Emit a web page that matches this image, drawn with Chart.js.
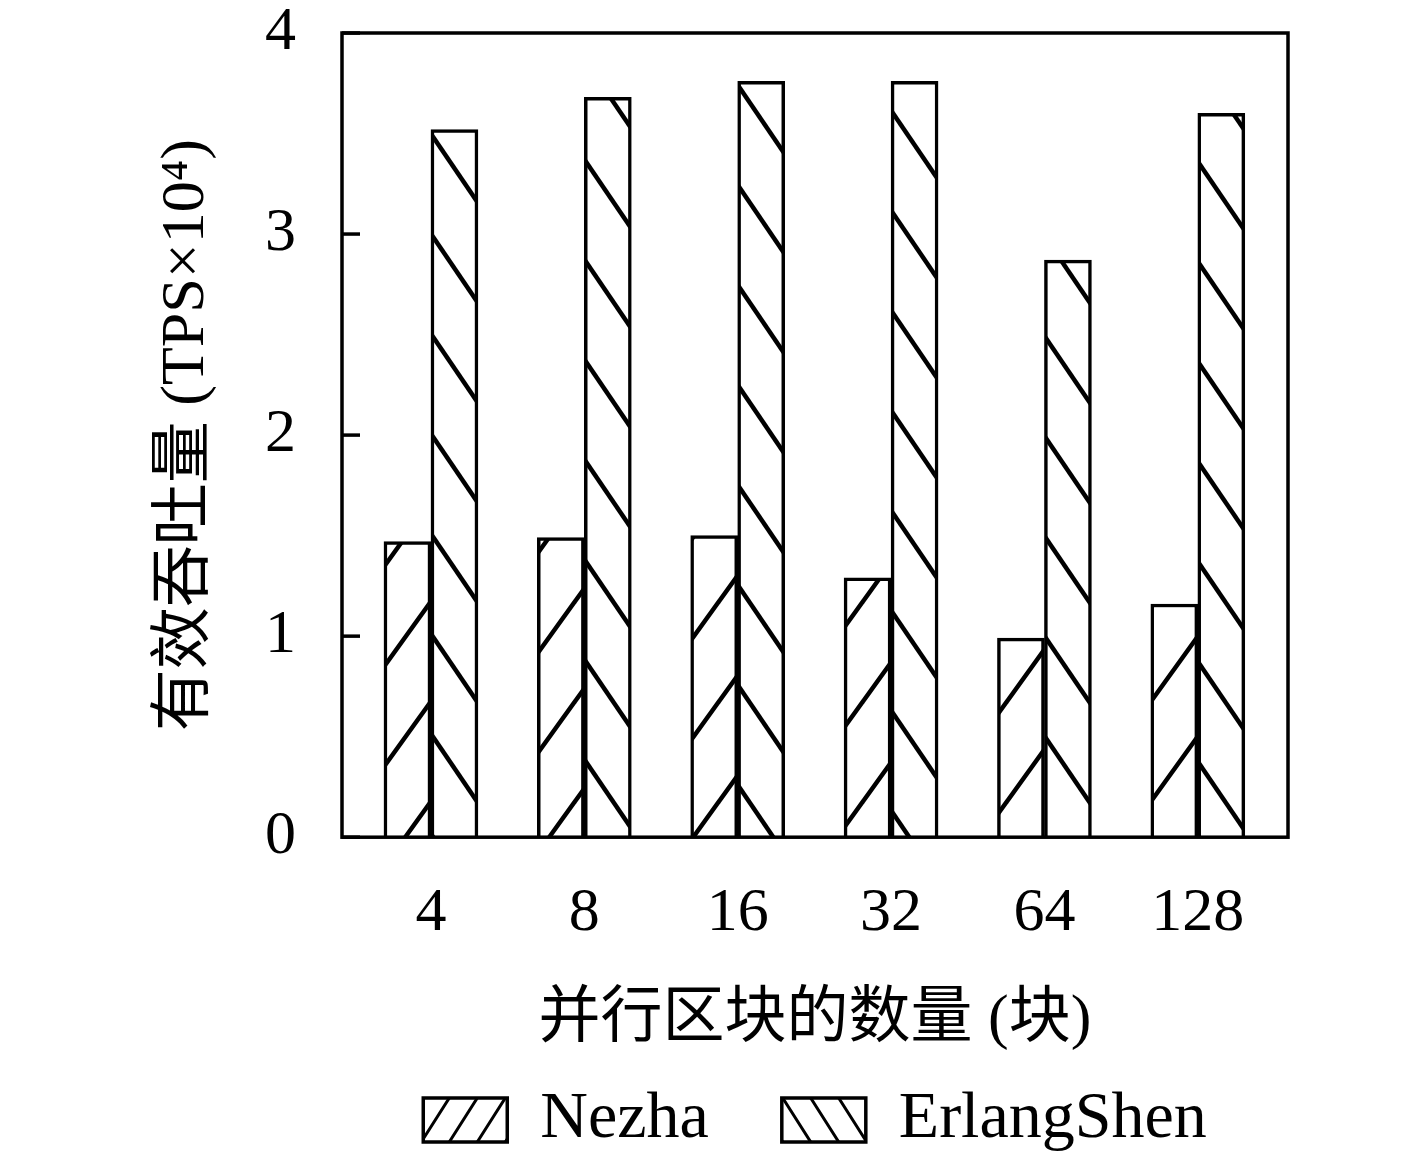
<!DOCTYPE html>
<html>
<head>
<meta charset="utf-8">
<script src="https://cdn.jsdelivr.net/npm/chart.js@4/dist/chart.umd.min.js"></script>
<style>
  html, body { margin: 0; padding: 0; background: #fff; }
  canvas { display: block; }
</style>
</head>
<body>
<canvas id="tpsChart" width="1417" height="1157" style="width:1417px;height:1157px"></canvas>
<script>
const categories = ['4', '8', '16', '32', '64', '128'];
const nezha = [1.47, 1.49, 1.50, 1.29, 0.99, 1.16];
const erlangShen = [3.52, 3.68, 3.76, 3.76, 2.87, 3.60];
const yTicks = [0, 1, 2, 3, 4];

const FONT = "'Liberation Serif', 'Noto Sans CJK SC', serif";

// hatch tile: '/' or '\'
function makeHatch(dir, w, h, lw) {
    const c = document.createElement('canvas');
    c.width = w; c.height = h;
    const g = c.getContext('2d');
    g.fillStyle = '#fff';
    g.fillRect(0, 0, w, h);
    g.strokeStyle = '#000';
    g.lineWidth = lw;
    g.lineCap = 'square';
    for (let dx = -w; dx <= w; dx += w) {
        g.beginPath();
        if (dir === '/') { g.moveTo(dx, h); g.lineTo(dx + w, 0); }
        else { g.moveTo(dx, 0); g.lineTo(dx + w, h); }
        g.stroke();
    }
    return g.createPattern(c, 'repeat');
}

const ctx = document.getElementById('tpsChart').getContext('2d');
const nezhaFill = makeHatch('/', 72, 100, 4.5);
const erlangFill = makeHatch('\\', 68, 100, 4.5);
const nezhaLegend = makeHatch('/', 28, 44, 3);
const erlangLegend = makeHatch('\\', 28, 44, 3);

const frame = {
    id: 'frame',
    afterDraw(chart) {
        const { ctx, chartArea: a, scales } = chart;
        ctx.save();
        ctx.strokeStyle = '#000';
        ctx.lineWidth = 3.5;
        yTicks.forEach(v => {
            const y = scales.y.getPixelForValue(v);
            ctx.beginPath();
            ctx.moveTo(a.left, y);
            ctx.lineTo(a.left + 18, y);
            ctx.stroke();
        });
        ctx.strokeRect(a.left, a.top, a.right - a.left, a.bottom - a.top);
        ctx.restore();
    }
};

new Chart(ctx, {
    type: 'bar',
    data: {
        datasets: [
            {
                label: 'Nezha',
                data: nezha.map((v, i) => ({ x: i, y: v })),
                backgroundColor: nezhaFill,
                borderColor: '#000',
                borderWidth: 3.5
            },
            {
                label: 'ErlangShen',
                data: erlangShen.map((v, i) => ({ x: i, y: v })),
                backgroundColor: erlangFill,
                borderColor: '#000',
                borderWidth: 3.5
            }
        ]
    },
    options: {
        responsive: false,
        devicePixelRatio: 1,
        animation: false,
        barThickness: 47,
        layout: { padding: { top: 33, right: 129, left: 0, bottom: -6 } },
        scales: {
            x: {
                type: 'linear',
                offset: false,
                min: -0.58,
                max: 5.588,
                afterBuildTicks: s => { s.ticks = categories.map((c, i) => ({ value: i })); },
                afterFit: s => { s.paddingLeft = 0; s.paddingRight = 0; },
                grid: { display: false, drawTicks: false, offset: false },
                border: { display: false },
                ticks: {
                    padding: 39,
                    maxRotation: 0,
                    color: '#000',
                    font: { family: FONT, size: 62 },
                    callback: v => categories[v]
                },
                title: {
                    display: true,
                    text: '并行区块的数量 (块)',
                    color: '#000',
                    font: { family: FONT, size: 62 },
                    padding: { top: -6, bottom: 22 }
                }
            },
            y: {
                min: 0,
                max: 4,
                afterBuildTicks: s => { s.ticks = yTicks.map(v => ({ value: v })); },
                afterFit: s => { s.width = 342; s.paddingTop = 0; s.paddingBottom = 0; },
                grid: { display: false, drawTicks: false },
                border: { display: false },
                ticks: {
                    padding: 46,
                    color: '#000',
                    font: { family: FONT, size: 62 }
                },
                title: {
                    display: true,
                    text: '有效吞吐量 (TPS×10⁴)',
                    color: '#000',
                    font: { family: FONT, size: 62 },
                    padding: { top: 150, bottom: 0 }
                }
            }
        },
        plugins: {
            tooltip: { enabled: false },
            legend: {
                position: 'bottom',
                fullSize: false,
                labels: {
                    color: '#000',
                    font: { family: FONT, size: 66 },
                    boxWidth: 84,
                    boxHeight: 44,
                    padding: 7,
                    generateLabels: chart => chart.data.datasets.map((d, i) => ({
                        text: i === 0 ? d.label + '    ' : d.label,
                        fillStyle: i === 0 ? nezhaLegend : erlangLegend,
                        strokeStyle: '#000',
                        lineWidth: 3.5,
                        fontColor: '#000',
                        datasetIndex: i
                    }))
                }
            }
        }
    },
    plugins: [frame]
});
</script>
</body>
</html>
